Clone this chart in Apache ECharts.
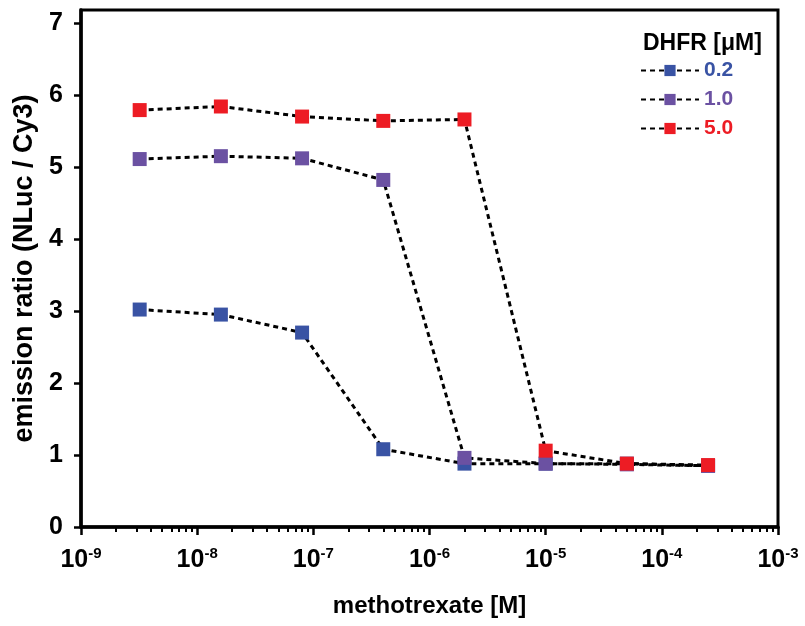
<!DOCTYPE html>
<html lang="en">
<head>
    <meta charset="UTF-8">
    <title>methotrexate_dhfr</title>
    <style type="text/css">
        html, body { margin: 0; padding: 0; background: #fff; }
        #box { width: 805px; height: 626px; }
    </style>
</head>
<body>
<div id="box"></div>
<script type="text/javascript" src="https://cdn.jsdelivr.net/npm/echarts@6/dist/echarts.min.js"></script>
<script type="text/javascript">
    // methotrexate concentrations [M], 5-fold dilutions
    const concentrations = [3.2e-9, 1.6e-8, 8e-8, 4e-7, 2e-6, 1e-5, 5e-5, 2.5e-4];
    const seriesNames = ['0.2', '1.0', '5.0'];
    const dhfr02 = [3.02, 2.95, 2.70, 1.08, 0.88, 0.88, 0.88, 0.85];
    const dhfr10 = [5.11, 5.15, 5.12, 4.82, 0.96, 0.88, 0.87, 0.85];
    const dhfr50 = [5.79, 5.84, 5.70, 5.64, 5.66, 1.06, 0.88, 0.86];
    const yTicks = [0, 1, 2, 3, 4, 5, 6, 7];
    const minorTickValues = [];
    for (let e = -9; e < -3; e++) {
        for (let m = 2; m <= 9; m++) minorTickValues.push(m * Math.pow(10, e));
    }

    const colors = ['#3953a4', '#6b51a2', '#ed1c24'];
    const font = '"Liberation Sans", Arial, sans-serif';

    function pairs(values) {
        return concentrations.map((c, i) => [c, values[i]]);
    }

    function makeSeries(name, values, color) {
        return {
            name: name,
            type: 'line',
            data: pairs(values),
            symbol: 'rect',
            symbolSize: 14,
            itemStyle: { color: color, borderColor: color, borderWidth: 0 },
            lineStyle: { color: '#000', width: 3, type: [5, 4] },
            z: 3
        };
    }

    let myChart = echarts.init(document.getElementById('box'));
    let option = {
        animation: false,
        title: {
            text: 'DHFR [μM]',
            left: 638,
            top: 27,
            textStyle: { fontFamily: font, fontSize: 23, fontWeight: 'bold', color: '#000' }
        },
        legend: {
            orient: 'vertical',
            left: 635,
            top: 55,
            itemGap: 8,
            itemWidth: 58,
            itemHeight: 14,
            itemTextGap: 7,
            textStyle: { fontFamily: font, fontSize: 21, fontWeight: 'bold' },
            data: seriesNames.map((n, i) => ({ name: n, textStyle: { color: colors[i] } }))
        },
        grid: {
            left: 81,
            right: 27,
            top: 10,
            bottom: 99,
            show: true,
            borderColor: '#000',
            borderWidth: 3
        },
        xAxis: [
            {
                type: 'log',
                logBase: 10,
                min: 1e-9,
                max: 1e-3,
                name: 'methotrexate [M]',
                nameLocation: 'middle',
                nameGap: 67,
                nameTextStyle: { fontFamily: font, fontSize: 24, fontWeight: 'bold', color: '#000' },
                axisLine: { lineStyle: { color: '#000', width: 3.5 } },
                axisTick: { length: 8, lineStyle: { color: '#000', width: 2.5 } },
                minorTick: { show: false },
                splitLine: { show: false },
                axisLabel: {
                    margin: 19,
                    color: '#000',
                    fontFamily: font,
                    fontSize: 25,
                    fontWeight: 'bold',
                    formatter: function (v) {
                        return '10{sup|' + Math.round(Math.log10(v)) + '}';
                    },
                    rich: {
                        sup: { fontFamily: font, fontSize: 15, fontWeight: 'bold', color: '#000', verticalAlign: 'top', padding: [0, 0, 14, 0] }
                    }
                }
            },
            {
                type: 'log',
                logBase: 10,
                min: 1e-9,
                max: 1e-3,
                position: 'bottom',
                axisLine: { show: false },
                axisLabel: { show: false },
                splitLine: { show: false },
                axisTick: {
                    length: 5,
                    customValues: minorTickValues,
                    lineStyle: { color: '#000', width: 2 }
                }
            }
        ],
        yAxis: {
            type: 'value',
            min: 0,
            max: 7.18,
            name: 'emission ratio (NLuc / Cy3)',
            nameLocation: 'middle',
            nameGap: 42,
            nameTextStyle: { fontFamily: font, fontSize: 27, fontWeight: 'bold', color: '#000' },
            axisLine: { show: true, lineStyle: { color: '#000', width: 3.5 } },
            axisTick: { show: true, length: 7, customValues: yTicks, lineStyle: { color: '#000', width: 2.5 } },
            splitLine: { show: false },
            axisLabel: {
                margin: 18,
                customValues: yTicks,
                color: '#000',
                fontFamily: font,
                fontSize: 25,
                fontWeight: 'bold'
            }
        },
        series: [
            makeSeries(seriesNames[0], dhfr02, colors[0]),
            makeSeries(seriesNames[1], dhfr10, colors[1]),
            makeSeries(seriesNames[2], dhfr50, colors[2])
        ]
    };
    myChart.setOption(option);
</script>
</body>
</html>
